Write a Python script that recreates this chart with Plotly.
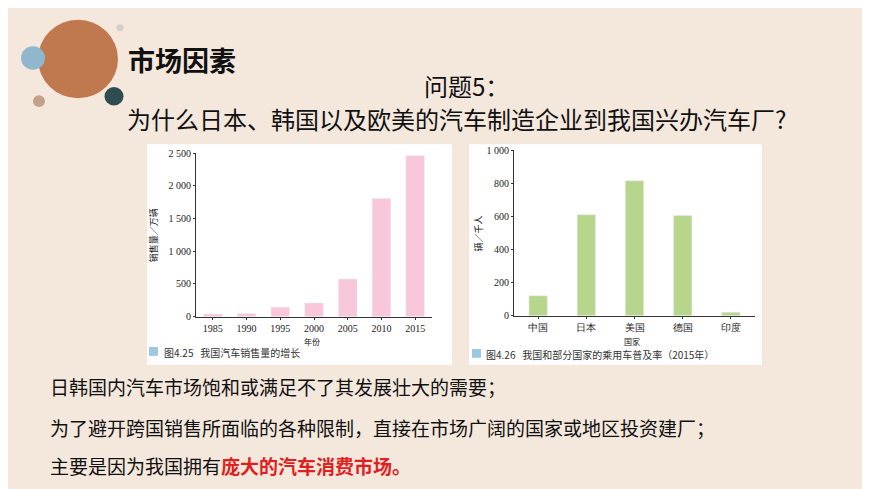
import plotly.graph_objects as go

W, H = 870, 489
OFF = 8  # page margin offset in the browser

years = ["1985", "1990", "1995", "2000", "2005", "2010", "2015"]
sales = [40, 50, 145, 210, 575, 1805, 2460]
sales_ticks = [0, 500, 1000, 1500, 2000, 2500]
sales_ticktext = ["0", "500", "1 000", "1 500", "2 000", "2 500"]

countries = ["中国", "日本", "美国", "德国", "印度"]
per_thousand = [120, 610, 815, 605, 20]
rate_ticks = [0, 200, 400, 600, 800, 1000]
rate_ticktext = ["0", "200", "400", "600", "800", "1 000"]

CJK = "Noto Sans CJK SC"


def px_x(v):
    return (v - OFF) / W


def px_y(v):
    return 1 - (v - OFF) / H


fig = go.Figure()
fig.add_trace(go.Bar(x=years, y=sales, marker_color="#f8c8da", width=0.55,
                     xaxis="x", yaxis="y", showlegend=False))
fig.add_trace(go.Bar(x=countries, y=per_thousand, marker_color="#b7d68c", width=0.38,
                     xaxis="x2", yaxis="y2", showlegend=False))

axis_style = dict(showline=True, linecolor="#333", linewidth=1, ticks="outside",
                  ticklen=2, tickcolor="#333", showgrid=False, zeroline=False,
                  tickfont=dict(family="Liberation Serif", size=10, color="#222"))

fig.update_layout(
    width=W, height=H, margin=dict(l=0, r=0, t=0, b=0),
    paper_bgcolor="#f4e7dc", plot_bgcolor="rgba(0,0,0,0)",
    font=dict(family=CJK),
    xaxis=dict(domain=[px_x(196), px_x(432)], anchor="y", **axis_style),
    yaxis=dict(domain=[px_y(318), px_y(151)], range=[0, 2500], anchor="x",
               tickvals=sales_ticks, ticktext=sales_ticktext, **axis_style),
    xaxis2=dict(domain=[px_x(514), px_x(755)], anchor="y2", **axis_style),
    yaxis2=dict(domain=[px_y(317), px_y(148)], range=[0, 1000], anchor="x2",
                tickvals=rate_ticks, ticktext=rate_ticktext, **axis_style),
)

P = dict(xref="paper", yref="paper")
shapes = [
    dict(type="rect", x0=px_x(147), x1=px_x(452), y0=px_y(367), y1=px_y(142),
         fillcolor="white", line_width=0, layer="below", **P),
    dict(type="rect", x0=px_x(469), x1=px_x(762), y0=px_y(367), y1=px_y(142),
         fillcolor="white", line_width=0, layer="below", **P),
    dict(type="rect", x0=px_x(149), x1=px_x(158), y0=px_y(358), y1=px_y(349),
         fillcolor="#9cc8e0", line_width=0, **P),
    dict(type="rect", x0=px_x(472), x1=px_x(481), y0=px_y(360), y1=px_y(351),
         fillcolor="#9cc8e0", line_width=0, **P),
]
for cx, cy, r, c in [(78, 55, 40, "#c0784f"), (33, 54, 12, "#8fb8cf"),
                     (120, 23, 3.5, "#d6cdc4"), (114, 93, 9.5, "#2f4c52"),
                     (39, 98, 6, "#c4a08a")]:
    shapes.append(dict(type="circle", x0=px_x(cx - r), x1=px_x(cx + r),
                       y0=px_y(cy + r), y1=px_y(cy - r), fillcolor=c, line_width=0, **P))
fig.update_layout(shapes=shapes)


def note(x, y, text, size, color="#111", xanchor="left", angle=0, family=CJK):
    fig.add_annotation(x=px_x(x), y=px_y(y), xref="paper", yref="paper", text=text,
                       showarrow=False, xanchor=xanchor, yanchor="middle", textangle=angle,
                       font=dict(family=family, size=size, color=color))


note(126, 55, "<b>市场因素</b>", 27)
note(466, 82, "问题5：", 24, xanchor="center")
note(456, 116, "为什么日本、韩国以及欧美的汽车制造企业到我国兴办汽车厂?", 24, xanchor="center")
note(312, 343, "年份", 8, xanchor="center")
note(153, 235, "销售量／万辆", 9, xanchor="center", angle=-90)
note(162, 355, "图4.25   我国汽车销售量的增长", 10, "#333")
note(632, 343, "国家", 8, xanchor="center")
note(478, 233, "辆／千人", 9, xanchor="center", angle=-90)
note(484, 357, "图4.26   我国和部分国家的乘用车普及率（2015年）", 10, "#333")
note(48, 389, "日韩国内汽车市场饱和或满足不了其发展壮大的需要；", 19)
note(48, 431, "为了避开跨国销售所面临的各种限制，直接在市场广阔的国家或地区投资建厂；", 19)
note(48, 470, "主要是因为我国拥有<span style='color:#e02020'><b>庞大的汽车消费市场。</b></span>", 19)

fig.write_html("out.html")
